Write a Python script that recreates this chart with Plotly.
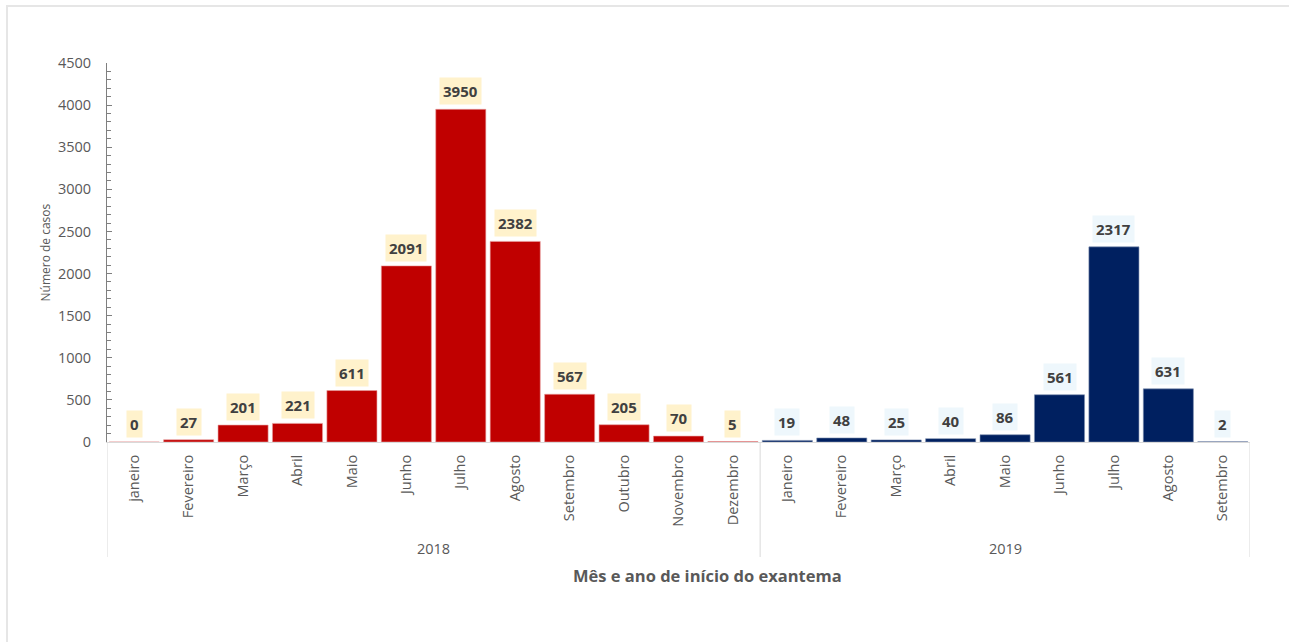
import plotly.graph_objects as go

months_2018 = ["janeiro", "Fevereiro", "Março", "Abril", "Maio", "Junho", "Julho",
               "Agosto", "Setembro", "Outubro", "Novembro", "Dezembro"]
cases_2018 = [0, 27, 201, 221, 611, 2091, 3950, 2382, 567, 205, 70, 5]
months_2019 = ["Janeiro", "Fevereiro", "Março", "Abril", "Maio", "Junho", "Julho",
               "Agosto", "Setembro"]
cases_2019 = [19, 48, 25, 40, 86, 561, 2317, 631, 2]
years = ["2018", "2019"]

W, H = 1289, 642
L, R, T, B = 107, 39, 63, 200
FONT = "Open Sans"
GREY = "#595959"

n18, n19 = len(months_2018), len(months_2019)
x18 = list(range(n18))
x19 = list(range(n18, n18 + n19))

fig = go.Figure()
fig.add_trace(go.Bar(x=x18, y=cases_2018, marker=dict(color="#C00000", line=dict(color="#E8A0A0", width=0.6)),
                     showlegend=False, hoverinfo="y"))
fig.add_trace(go.Bar(x=x19, y=cases_2019, marker=dict(color="#002060", line=dict(color="#8090B0", width=0.6)),
                     showlegend=False, hoverinfo="y"))

annotations = []
for xs, vals, bg in [(x18, cases_2018, "#FFF2CC"), (x19, cases_2019, "#EEF7FC")]:
    for xi, v in zip(xs, vals):
        annotations.append(dict(x=xi, y=v, xref="x", yref="y", text=f"<b>{v}</b>",
                                showarrow=False, yanchor="bottom", yshift=4,
                                bgcolor=bg, borderpad=3,
                                font=dict(family=FONT, size=15, color="#404040")))

ph = H - T - B
def py(px):
    return (H - B - px) / ph

# year group labels
groups = [(x18, years[0]), (x19, years[1])]
for xs, yr in groups:
    annotations.append(dict(x=(xs[0] + xs[-1]) / 2, y=py(548), xref="x", yref="paper",
                            text=yr, showarrow=False, yanchor="middle",
                            font=dict(family=FONT, size=14.5, color=GREY)))

# axis titles
annotations.append(dict(x=(707 - L) / (W - L - R), y=py(575), xref="paper", yref="paper",
                        text="<b>Mês e ano de início do exantema</b>", showarrow=False,
                        yanchor="middle", font=dict(family=FONT, size=16.5, color=GREY)))
annotations.append(dict(x=(45 - L) / (W - L - R), y=0.5, xref="paper", yref="paper",
                        text="Número de casos", showarrow=False, textangle=-90,
                        xanchor="center", yanchor="middle",
                        font=dict(family=FONT, size=12, color=GREY)))

shapes = []
for xb in [-0.5, n18 - 0.5, n18 + n19 - 0.5]:
    shapes.append(dict(type="line", xref="x", yref="paper", x0=xb, x1=xb,
                       y0=0, y1=py(557), line=dict(color="#D9D9D9", width=1)))
# outer frame
shapes.append(dict(type="rect", xref="paper", yref="paper",
                   x0=(7 - L) / (W - L - R), x1=(W + 20 - L) / (W - L - R),
                   y0=py(H + 20), y1=py(6), line=dict(color="#E6E6E6", width=2)))

fig.update_layout(
    width=W, height=H,
    margin=dict(l=L, r=R, t=T, b=B),
    paper_bgcolor="white", plot_bgcolor="white",
    bargap=0.08,
    annotations=annotations, shapes=shapes,
    font=dict(family=FONT, color=GREY),
)
fig.update_xaxes(range=[-0.5, n18 + n19 - 0.5],
                 tickmode="array", tickvals=x18 + x19, ticktext=months_2018 + months_2019,
                 tickangle=-90, tickfont=dict(family=FONT, size=14.5, color=GREY),
                 showline=True, linecolor="#D9D9D9", linewidth=1, ticks="",
                 showgrid=False, zeroline=False, ticklabelstandoff=6)
fig.update_yaxes(range=[0, 4500], dtick=500, tick0=0,
                 tickfont=dict(family=FONT, size=14.5, color=GREY),
                 showline=True, linecolor="#7F7F7F", linewidth=1,
                 ticks="inside", ticklen=5, tickcolor="#7F7F7F",
                 minor=dict(dtick=100, ticks="inside", ticklen=4, tickcolor="#7F7F7F"),
                 showgrid=False, zeroline=False, ticklabelstandoff=12)

fig.write_html("out.html")
